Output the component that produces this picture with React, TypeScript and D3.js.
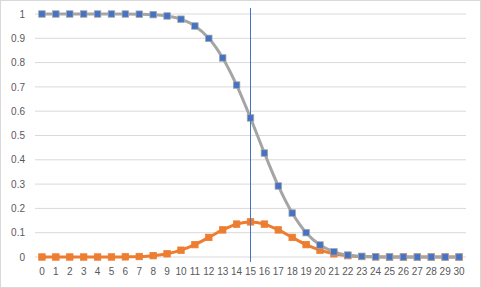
import React from "react";
import * as d3 from "d3";

const categories: string[] = Array.from({ length: 31 }, (_, i) => String(i));
const survival: number[] = [
  1, 1, 1, 1, 1, 1, 1, 0.9993, 0.9974, 0.9919, 0.9786, 0.9506, 0.8998, 0.8192,
  0.7077, 0.5722, 0.4278, 0.2923, 0.1808, 0.1002, 0.0494, 0.0214, 0.0081,
  0.0026, 0.0007, 0.0002, 0, 0, 0, 0, 0,
];
const pmf: number[] = [
  0, 0, 0, 0, 0, 0.0001, 0.0006, 0.0019, 0.0055, 0.0133, 0.028, 0.0509, 0.0806,
  0.1115, 0.1354, 0.1445, 0.1354, 0.1115, 0.0806, 0.0509, 0.028, 0.0133,
  0.0055, 0.0019, 0.0006, 0.0001, 0, 0, 0, 0, 0,
];
const yTicks: number[] = [0, 0.1, 0.2, 0.3, 0.4, 0.5, 0.6, 0.7, 0.8, 0.9, 1];
const markerCategory = "15";
const markerRange: [number, number] = [-0.02, 1.025];

const W = 481;
const H = 288;

export default function App() {
  const x = d3.scaleBand<string>().domain(categories).range([35, 466]);
  const y = d3.scaleLinear().domain([0, 1]).range([257, 14]);
  const cx = (c: string) => (x(c) as number) + x.bandwidth() / 2;

  const line = d3
    .line<number>()
    .x((_, i) => cx(categories[i]))
    .y((d) => y(d))
    .curve(d3.curveCatmullRom.alpha(0.5));

  const font = "'Liberation Sans', Arial, sans-serif";
  const ms = 6.5;

  return (
    <svg
      width={W}
      height={H}
      style={{ position: "absolute", left: 0, top: 0, background: "#fff" }}
    >
      <rect x={0.5} y={0.5} width={W - 1} height={H - 1} fill="#fff" stroke="#D9D9D9" />
      {yTicks.map((t) => (
        <g key={t}>
          <line x1={35} x2={466} y1={y(t)} y2={y(t)} stroke="#D9D9D9" strokeWidth={1} />
          <text
            x={25}
            y={y(t) + 3.6}
            textAnchor="end"
            fontFamily={font}
            fontSize={10}
            fill="#595959"
          >
            {String(t)}
          </text>
        </g>
      ))}
      {categories.map((c) => (
        <text
          key={c}
          x={cx(c)}
          y={275}
          textAnchor="middle"
          fontFamily={font}
          fontSize={10}
          fill="#595959"
        >
          {c}
        </text>
      ))}
      <path d={line(pmf) || ""} fill="none" stroke="#ED7D31" strokeWidth={3} strokeLinejoin="round" />
      {pmf.map((v, i) => (
        <rect
          key={"o" + i}
          x={cx(categories[i]) - ms / 2}
          y={y(v) - ms / 2}
          width={ms}
          height={ms}
          fill="#ED7D31"
          stroke="#ED7D31"
          strokeWidth={0.75}
        />
      ))}
      <path d={line(survival) || ""} fill="none" stroke="#A5A5A5" strokeWidth={3} strokeLinejoin="round" />
      {survival.map((v, i) => (
        <rect
          key={"b" + i}
          x={cx(categories[i]) - ms / 2}
          y={y(v) - ms / 2}
          width={ms}
          height={ms}
          fill="#4472C4"
          stroke="#A5A5A5"
          strokeWidth={0.75}
        />
      ))}
      <line
        x1={cx(markerCategory)}
        x2={cx(markerCategory)}
        y1={y(markerRange[1])}
        y2={y(markerRange[0])}
        stroke="#4472C4"
        strokeWidth={1}
      />
    </svg>
  );
}
